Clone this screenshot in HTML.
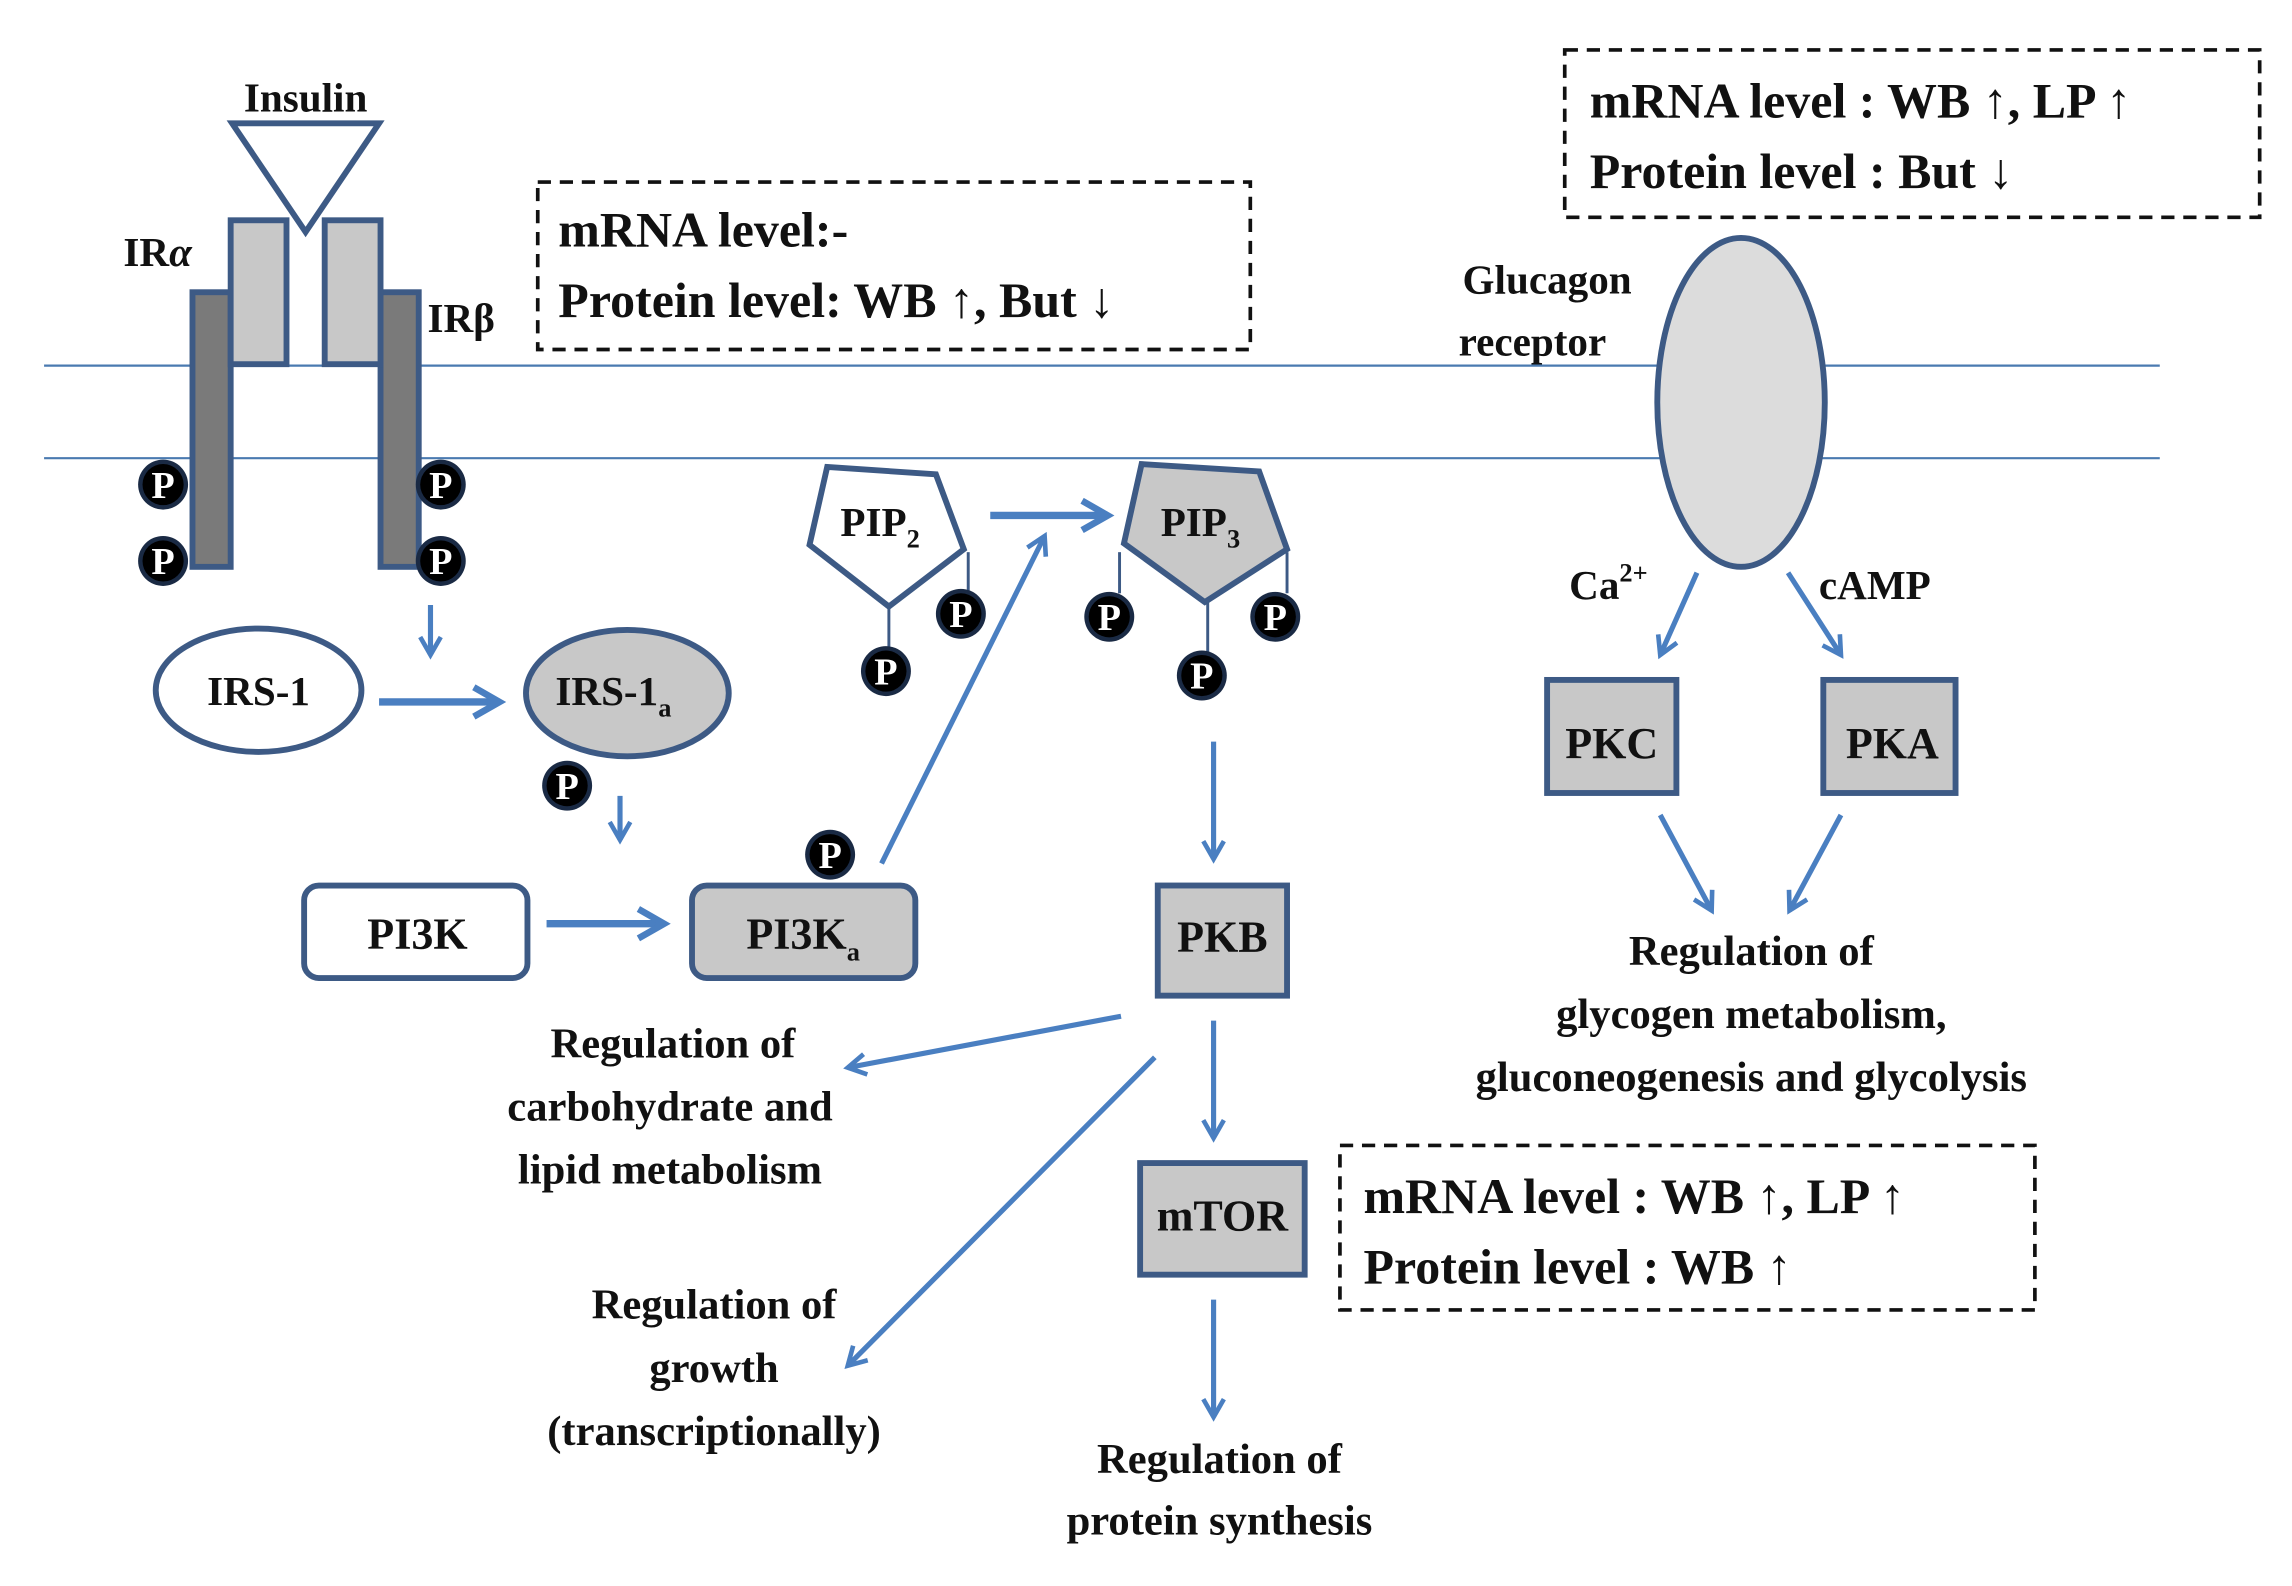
<!DOCTYPE html>
<html><head><meta charset="utf-8"><style>
html,body{margin:0;padding:0;background:#fff;}
svg{display:block;}
text{font-family:"Liberation Serif",serif;font-weight:bold;fill:#111;}
</style></head><body>
<svg width="2292" height="1586" viewBox="0 0 1560 1080" preserveAspectRatio="none" xmlns="http://www.w3.org/2000/svg">
<defs>
<marker id="ah" viewBox="0 0 10 10" refX="8" refY="5" markerWidth="5" markerHeight="5" orient="auto"><path d="M1,1 L8,5 L1,9" fill="none" stroke="#4a7fc1" stroke-width="1.8"/></marker>
<marker id="ah2" viewBox="0 0 10 10" refX="8" refY="5" markerWidth="5" markerHeight="5" orient="auto"><path d="M1,1 L8,5 L1,9" fill="none" stroke="#4a7fc1" stroke-width="1.8"/></marker>
<g id="p"><circle r="17" fill="#1a2a44"/><circle r="14" fill="#000"/><text x="0" y="9" font-size="26" text-anchor="middle" style="fill:#fff">P</text></g>
</defs>
<g stroke="#4a7ab0" stroke-width="1.5"><line x1="30" y1="249" x2="1470" y2="249"/><line x1="30" y1="312" x2="1470" y2="312"/></g>
<g stroke="#3d5a85" stroke-width="4">
<rect x="131" y="199" width="26" height="187" fill="#7a7a7a"/>
<rect x="259" y="199" width="26" height="187" fill="#7a7a7a"/>
<rect x="157" y="150" width="38" height="98" fill="#c8c8c8"/>
<rect x="221" y="150" width="38" height="98" fill="#c8c8c8"/>
<polygon points="158,84 258,84 208,158" fill="#fff"/>
</g>
<text x="208" y="76" font-size="28" text-anchor="middle">Insulin</text>
<text x="84" y="181" font-size="28">IR<tspan font-style="italic">α</tspan></text>
<text x="291" y="226" font-size="28">IRβ</text>
<use href="#p" x="111" y="330"/><use href="#p" x="111" y="382"/>
<use href="#p" x="300" y="330"/><use href="#p" x="300" y="382"/>
<g fill="none" stroke="#111" stroke-width="2.5" stroke-dasharray="9,6">
<rect x="366" y="124" width="485" height="114"/>
<rect x="1065" y="34" width="473" height="114"/>
<rect x="912" y="780" width="473" height="112"/>
</g>
<text x="380" y="168" font-size="34">mRNA level:-</text>
<text x="380" y="216" font-size="34">Protein level: WB ↑, But ↓</text>
<text x="1082" y="80" font-size="34">mRNA level : WB ↑, LP ↑</text>
<text x="1082" y="128" font-size="34">Protein level : But ↓</text>
<text x="928" y="826" font-size="34">mRNA level : WB ↑, LP ↑</text>
<text x="928" y="874" font-size="34">Protein level : WB ↑</text>
<g stroke="#3d5a85" stroke-width="4">
<ellipse cx="176" cy="470" rx="70" ry="42" fill="#fff"/>
<ellipse cx="427" cy="472" rx="69" ry="43" fill="#c8c8c8"/>
<rect x="207" y="603" width="152" height="63" rx="10" fill="#fff"/>
<rect x="471" y="603" width="152" height="63" rx="10" fill="#c8c8c8"/>
<rect x="788" y="603" width="88" height="75" fill="#c8c8c8"/>
<rect x="776" y="792" width="112" height="76" fill="#c8c8c8"/>
<rect x="1053" y="463" width="88" height="77" fill="#c8c8c8"/>
<rect x="1241" y="463" width="90" height="77" fill="#c8c8c8"/>
<ellipse cx="1185" cy="274" rx="57" ry="112" fill="#dcdcdc"/>
<polygon points="563,318 637,323 656,374 605,413 551,371" fill="#fff"/>
<polygon points="777,316 857,321 876,374 820,410 765,370" fill="#c8c8c8"/>
</g>
<g stroke="#3d5a85" stroke-width="2">
<line x1="605" y1="413" x2="605" y2="445"/><line x1="659" y1="376" x2="659" y2="404"/>
<line x1="762" y1="376" x2="762" y2="404"/><line x1="876" y1="376" x2="876" y2="404"/>
<line x1="822" y1="410" x2="822" y2="446"/>
</g>
<text x="176" y="480" font-size="28" text-anchor="middle">IRS-1</text>
<text x="378" y="480" font-size="28">IRS-1<tspan font-size="18" dy="8">a</tspan></text>
<text x="250" y="646" font-size="30">PI3K</text>
<text x="508" y="646" font-size="30">PI3K<tspan font-size="18" dy="8">a</tspan></text>
<text x="832" y="648" font-size="30" text-anchor="middle">PKB</text>
<text x="832" y="838" font-size="30" text-anchor="middle">mTOR</text>
<text x="1097" y="516" font-size="30" text-anchor="middle">PKC</text>
<text x="1288" y="516" font-size="30" text-anchor="middle">PKA</text>
<text x="572" y="365" font-size="28">PIP<tspan font-size="18" dy="8">2</tspan></text>
<text x="790" y="365" font-size="28">PIP<tspan font-size="18" dy="8">3</tspan></text>
<use href="#p" x="386" y="535"/><use href="#p" x="565" y="582"/>
<use href="#p" x="603" y="457"/><use href="#p" x="654" y="418"/>
<use href="#p" x="755" y="420"/><use href="#p" x="868" y="420"/><use href="#p" x="818" y="460"/>
<g stroke="#4a7fc1" fill="none">
<g stroke-width="5" marker-end="url(#ah)">
<line x1="258" y1="478" x2="340" y2="478"/>
<line x1="372" y1="629" x2="452" y2="629"/>
<line x1="674" y1="351" x2="754" y2="351"/>
</g>
<g stroke-width="3.5" marker-end="url(#ah2)">
<line x1="293" y1="412" x2="293" y2="446"/>
<line x1="422" y1="542" x2="422" y2="572"/>
<line x1="600" y1="588" x2="711" y2="365"/>
<line x1="826" y1="505" x2="826" y2="585"/>
<line x1="826" y1="695" x2="826" y2="775"/>
<line x1="826" y1="885" x2="826" y2="965"/>
<line x1="763" y1="692" x2="577" y2="727"/>
<line x1="786" y1="720" x2="577" y2="930"/>
<line x1="1155" y1="390" x2="1130" y2="446"/>
<line x1="1217" y1="390" x2="1253" y2="446"/>
<line x1="1130" y1="555" x2="1165" y2="620"/>
<line x1="1253" y1="555" x2="1218" y2="620"/>
</g>
</g>
<text x="1053" y="200" font-size="28" text-anchor="middle">Glucagon</text>
<text x="1043" y="242" font-size="28" text-anchor="middle">receptor</text>
<text x="1068" y="408" font-size="28">Ca<tspan font-size="18" dy="-12">2+</tspan></text>
<text x="1238" y="408" font-size="28">cAMP</text>
<g font-size="29" text-anchor="middle">
<text x="1192" y="657">Regulation  of</text>
<text x="1192" y="700">glycogen metabolism,</text>
<text x="1192" y="743">gluconeogenesis and glycolysis</text>
<text x="458" y="720">Regulation  of</text>
<text x="456" y="763">carbohydrate  and</text>
<text x="456" y="806">lipid  metabolism</text>
<text x="486" y="898">Regulation  of</text>
<text x="486" y="941">growth</text>
<text x="486" y="984">(transcriptionally)</text>
<text x="830" y="1003">Regulation  of</text>
<text x="830" y="1045">protein  synthesis</text>
</g>
</svg>
</body></html>
